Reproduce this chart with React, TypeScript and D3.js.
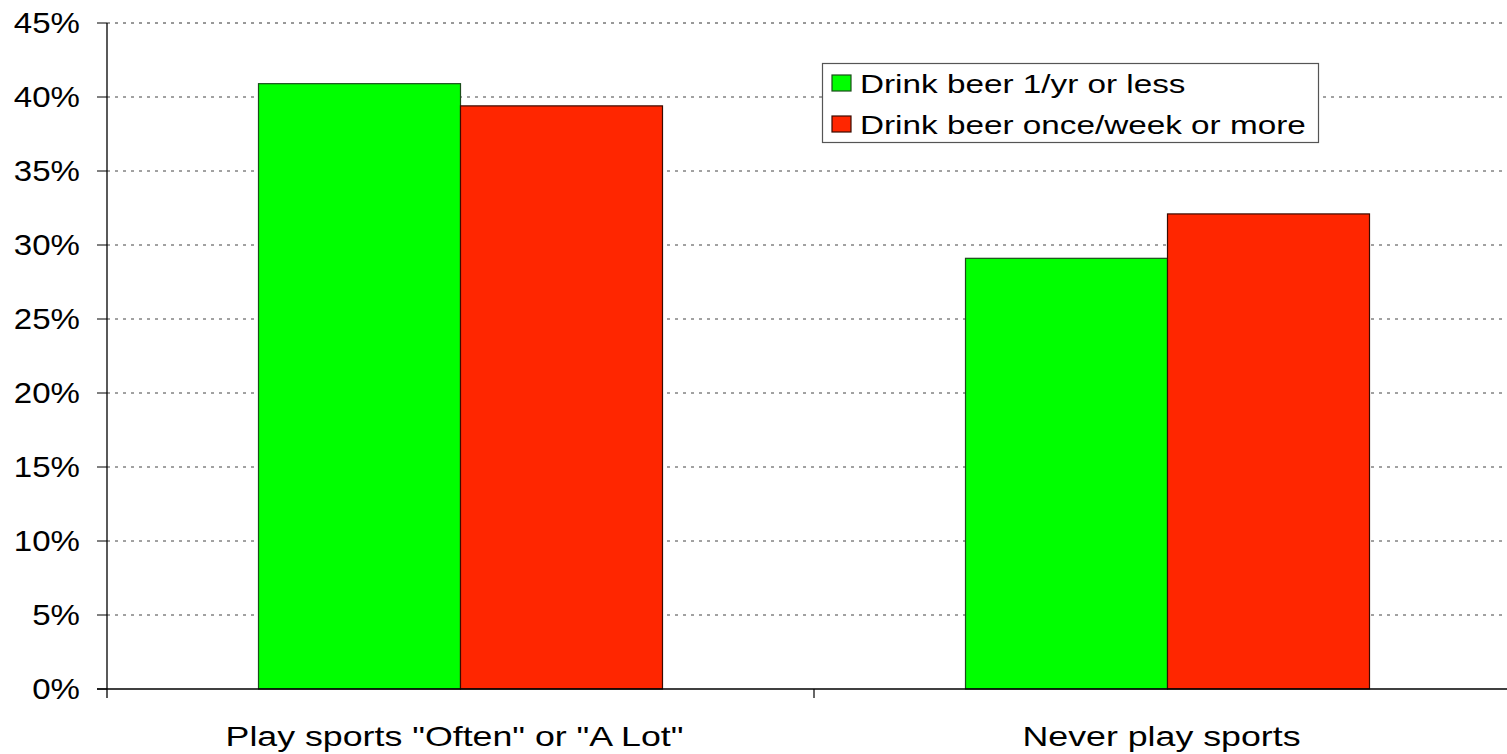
import React from "react";
import * as d3 from "d3";

const categories = ['Play sports "Often" or "A Lot"', "Never play sports"];
const seriesNames = ["Drink beer 1/yr or less", "Drink beer once/week or more"];
const seriesColors = ["#00FF00", "#FF2600"];
const lowBeer = [40.9, 29.1];
const highBeer = [39.4, 32.1];
const yTicks = [0, 5, 10, 15, 20, 25, 30, 35, 40, 45];

const W = 1507;
const H = 754;
const left = 107;
const top = 23;
const bottom = 689;
const plotRight = 1521;

export default function App() {
  const x = d3.scaleBand<string>().domain(categories).range([left, plotRight]).paddingInner(0).paddingOuter(0);
  const bw = x.bandwidth();
  const barW = bw / 3.5;
  const x1 = d3.scaleBand<string>().domain(seriesNames).range([0, barW * 2]).padding(0);
  const y = d3.scaleLinear().domain([0, 45]).range([bottom, top]);
  const values = [lowBeer, highBeer];

  return (
    <svg width={W} height={H} style={{ position: "absolute", left: 0, top: 0, background: "#fff" }}
      fontFamily="'Liberation Sans', Arial, sans-serif">
      {/* grid */}
      {yTicks.filter(t => t > 0).map(t => (
        <line key={"g" + t} x1={left} x2={W} y1={y(t)} y2={y(t)}
          stroke={t === 45 ? "#333" : "#444"} strokeWidth={1} strokeDasharray="3,5" />
      ))}
      {/* bars */}
      {categories.map((c, ci) => (
        <g key={c} transform={`translate(${x(c)! + (bw - barW * 2) / 2},0)`}>
          {seriesNames.map((s, si) => (
            <rect key={s} x={x1(s)} y={y(values[si][ci])} width={x1.bandwidth()}
              height={y(0) - y(values[si][ci])} fill={seriesColors[si]}
              stroke={si === 0 ? "#1a4d1a" : "#3a0a00"} strokeWidth={1.2} />
          ))}
        </g>
      ))}
      {/* axes */}
      <line x1={left} x2={left} y1={top} y2={bottom + 9} stroke="#000" strokeWidth={1.3} />
      <line x1={left - 10} x2={W} y1={bottom} y2={bottom} stroke="#000" strokeWidth={1.3} />
      {yTicks.map(t => (
        <g key={"t" + t}>
          <line x1={left - 10} x2={left} y1={y(t)} y2={y(t)} stroke="#000" strokeWidth={1} />
          <g transform={`translate(80,${y(t)}) scale(1.14,1)`}>
            <text textAnchor="end" dy="0.36em" fontSize={29} fill="#000">{t}%</text>
          </g>
        </g>
      ))}
      {categories.slice(1).map(c => (
        <line key={"ct" + c} x1={x(c)} x2={x(c)} y1={bottom} y2={bottom + 9} stroke="#000" strokeWidth={1.2} />
      ))}
      {categories.map(c => (
        <g key={"cl" + c} transform={`translate(${x(c)! + bw / 2 - 6},746) scale(1.3,1)`}>
          <text textAnchor="middle" fontSize={27.5} fill="#000">{c}</text>
        </g>
      ))}
      {/* legend */}
      <rect x={822.5} y={63.5} width={496} height={79} fill="#fff" stroke="#555" strokeWidth={1.2} />
      {seriesNames.map((s, si) => (
        <g key={"l" + s}>
          <rect x={832} y={75 + si * 41} width={19} height={16} fill={seriesColors[si]}
            stroke={si === 0 ? "#1a4d1a" : "#3a0a00"} strokeWidth={1.2} />
          <g transform={`translate(860,${93 + si * 41}) scale(1.28,1)`}>
            <text fontSize={26} fill="#000">{s}</text>
          </g>
        </g>
      ))}
    </svg>
  );
}
